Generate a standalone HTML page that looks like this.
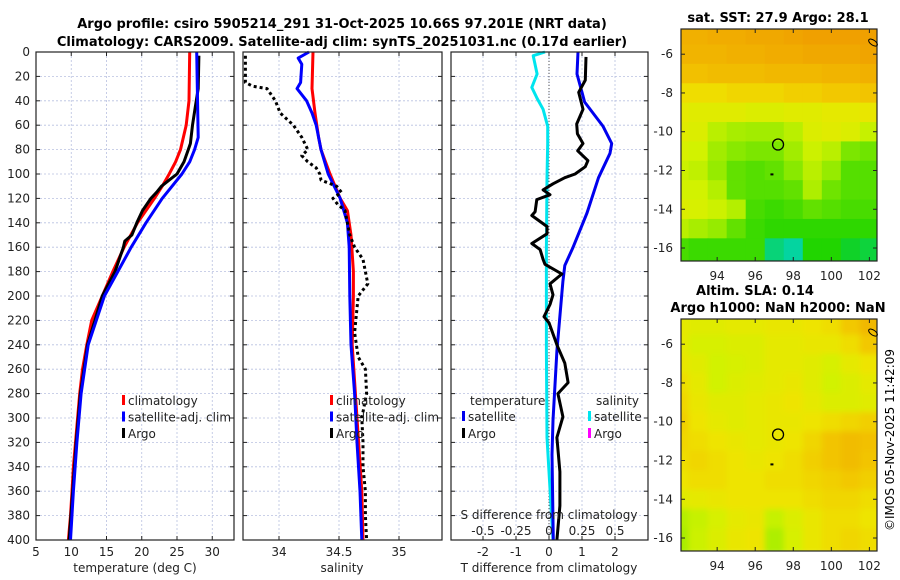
<!DOCTYPE html>
<html><head><meta charset="utf-8"><style>
html,body{margin:0;padding:0;background:#fff;}
svg{display:block;font-family:"DejaVu Sans","Liberation Sans",sans-serif;}
</style></head><body>
<svg id="fig" width="900" height="580" viewBox="0 0 900 580" xmlns="http://www.w3.org/2000/svg">
<defs><filter id="soft" x="0" y="0" width="1" height="1"><feGaussianBlur stdDeviation="3"/></filter></defs>
<text x="342" y="28" text-anchor="middle" font-size="13" font-weight="bold">Argo profile: csiro 5905214_291 31-Oct-2025 10.66S 97.201E (NRT data)</text>
<text x="342" y="46" text-anchor="middle" font-size="13" font-weight="bold">Climatology: CARS2009. Satellite-adj clim: synTS_20251031.nc (0.17d earlier)</text>
<text x="778" y="22" text-anchor="middle" font-size="13" font-weight="bold">sat. SST: 27.9 Argo: 28.1</text>
<text x="755" y="295" text-anchor="middle" font-size="13" font-weight="bold">Altim. SLA: 0.14</text>
<text x="778" y="312" text-anchor="middle" font-size="13" font-weight="bold">Argo h1000: NaN h2000: NaN</text>
<text transform="translate(894,440) rotate(-90)" text-anchor="middle" font-size="12">©IMOS 05-Nov-2025 11:42:09</text>
<g id="plots"></g>
</svg>
<script>
// ---- data ----
const depthTicks=[0,20,40,60,80,100,120,140,160,180,200,220,240,260,280,300,320,340,360,380,400];
const tTicks=[5,10,15,20,25,30];
const sTicks=[34,34.5,35];
const dTicks=[-2,-1,0,1,2];
const sdTicks=[-0.5,-0.25,0,0.25,0.5];
const sdTickLabels=["-0.5","-0.25","0","0.25","0.5"];
const climTDepth=[0,40,60,80,90,100,110,120,140,160,180,200,220,240,260,280,300,320,340,360,380,400];
const climT=[26.8,26.7,26.3,25.5,24.8,23.9,22.9,21.8,19.4,17.5,15.9,14.4,12.9,12.2,11.6,11.2,10.9,10.6,10.3,10.1,9.9,9.6];
const satTDepth=[0,70,80,90,100,110,120,140,160,180,200,240,280,320,360,400];
const satT=[27.8,28.0,27.5,26.8,25.7,24.3,22.9,20.6,18.5,16.6,14.7,12.4,11.4,10.8,10.3,9.9];
const argoTDepth=[3,30,45,60,75,80,90,100,105,110,115,120,130,140,150,155,160,180,200,240,280,320,360,400];
const argoT=[28.1,28.0,27.6,27.2,26.9,26.6,26.0,25.0,23.9,22.8,22.1,21.3,20.1,19.3,18.6,17.6,17.4,16.2,14.4,12.3,11.3,10.7,10.2,9.7];
const climSDepth=[0,30,50,70,80,100,120,130,150,180,200,240,300,360,400];
const climS=[34.283,34.275,34.3,34.33,34.35,34.425,34.51,34.57,34.6,34.62,34.62,34.61,34.65,34.69,34.7];
const satSDepth=[0,5,10,25,30,40,50,60,80,100,120,140,160,200,240,280,320,360,400];
const satS=[34.25,34.16,34.19,34.18,34.15,34.23,34.275,34.31,34.35,34.41,34.51,34.57,34.585,34.59,34.6,34.63,34.65,34.675,34.69];
const argoSDepth=[3,25,28,30,40,50,60,70,80,85,90,95,100,105,110,115,120,125,130,150,160,170,180,190,200,210,230,250,260,280,300,320,340,360,380,400];
const argoS=[33.72,33.72,33.78,33.9,33.97,34.01,34.12,34.19,34.24,34.19,34.24,34.31,34.34,34.35,34.48,34.52,34.45,34.49,34.55,34.59,34.63,34.7,34.72,34.74,34.66,34.65,34.63,34.66,34.72,34.73,34.69,34.7,34.7,34.72,34.72,34.73];
const satDTDepth=[0,18,33,41,61,75,83,103,132,160,175,188,245,302,330,400];
const satDT=[0.88,0.85,1.0,1.08,1.64,1.9,1.85,1.5,1.15,0.73,0.48,0.42,0.24,0.12,0.09,0.13];
const argoDTDepth=[4,23,33,47,59,67,75,81,89,94,100,103,108,113,117,121,131,134,143,149,157,162,170,174,182,190,199,207,217,222,240,255,271,280,299,316,344,372,400];
const argoDT=[1.12,1.1,0.9,1.03,0.84,0.86,1.03,0.87,1.18,1.1,0.79,0.48,0.12,-0.18,0.03,-0.37,-0.42,-0.52,-0.06,-0.06,-0.52,-0.27,-0.18,-0.12,0.39,0.03,0.12,0.03,-0.15,0.0,0.24,0.48,0.58,0.27,0.42,0.24,0.33,0.33,0.24];
const satDSDepth=[0,3,8,18,29,38,47,61,75,103,160,245,316,400];
const satDS=[-0.03,-0.12,-0.11,-0.09,-0.13,-0.09,-0.045,-0.01,-0.01,-0.015,-0.02,-0.02,-0.015,0.03];
const lonTicks=[94,96,98,100,102];
const latTicks=[-6,-8,-10,-12,-14,-16];
const latTickLabels=["-6","-8","-10","-12","-14","-16"];
const floatLon=97.2, floatLat=-10.66;
// SST field (rows lat -5..-16, cols lon 92..102), index -1=cyan .. 4=orange
const sstGrid=[
[3.6,3.6,3.7,3.7,3.8,3.8,3.9,4.0,4.0,4.0,4.0],
[3.5,3.5,3.5,3.6,3.6,3.7,3.7,3.8,3.8,3.8,3.9],
[3.2,3.2,3.3,3.3,3.3,3.4,3.4,3.4,3.5,3.5,3.6],
[2.7,2.7,2.7,2.8,2.8,2.8,2.9,2.9,3.0,3.0,3.1],
[2.4,2.3,2.3,2.3,2.2,2.2,2.3,2.3,2.4,2.4,2.5],
[2.3,2.2,1.6,1.3,1.2,1.2,1.6,2.2,2.3,2.2,1.8],
[2.1,2.0,1.2,0.9,0.8,0.8,1.2,1.9,1.6,0.8,0.7],
[1.9,1.7,1.0,0.6,0.5,0.6,0.9,1.6,1.0,0.5,0.5],
[2.0,2.0,1.5,0.6,0.5,0.5,0.6,1.4,0.7,0.5,0.5],
[2.2,2.1,1.9,1.5,0.4,0.3,0.4,0.6,0.5,0.4,0.4],
[1.6,1.3,1.0,0.6,0.3,0.2,0.2,0.2,0.2,0.2,0.2],
[0.4,0.3,0.3,0.3,0.3,-0.6,-0.8,0.1,0.1,-0.2,-0.3]];
const slaGrid=[
[2.4,2.3,2.3,2.4,2.4,2.5,2.5,2.6,2.7,3.0,3.4],
[2.4,2.1,2.1,2.2,2.2,2.4,2.4,2.5,2.5,2.7,3.0],
[2.5,2.3,2.0,2.1,2.2,2.4,2.4,2.3,2.1,2.4,2.6],
[2.7,2.4,2.0,2.2,2.3,2.4,2.5,2.3,2.0,2.2,2.4],
[2.8,2.5,2.3,2.3,2.4,2.5,2.6,2.4,2.2,2.2,2.3],
[2.9,2.6,2.4,2.3,2.4,2.5,2.5,2.6,2.7,2.8,2.9],
[2.8,2.7,2.6,2.5,2.4,2.5,2.6,2.8,3.1,3.3,3.2],
[2.7,2.8,2.7,2.6,2.5,2.6,2.7,2.9,3.1,3.3,3.1],
[2.6,2.7,2.7,2.6,2.6,2.7,2.7,2.8,2.9,3.0,2.9],
[2.3,2.4,2.5,2.6,2.6,2.6,2.6,2.7,2.8,2.8,2.7],
[1.5,1.8,2.1,2.4,2.5,1.8,2.2,2.5,2.7,2.7,2.6],
[1.3,1.9,2.2,2.5,2.6,1.4,2.1,2.5,2.7,2.8,2.7]];

// ---- drawing ----
const NS="http://www.w3.org/2000/svg";
const root=document.getElementById('plots');
function mk(tag,attrs,parent){const e=document.createElementNS(NS,tag);for(const k in attrs)e.setAttribute(k,attrs[k]);(parent||root).appendChild(e);return e;}
const Y0=52,Y1=540;
const yD=d=>Y0+(Y1-Y0)*d/400;
const xT=v=>36+(v-5)*7.05;
const xS=v=>243+(v-33.7)*120;
const xDT=v=>549+v*33;
const xDS=v=>549+v*132;
const panels=[{x0:36,x1:234},{x0:243,x1:442},{x0:451,x1:648}];
function grid(p,xticks,xf,name){
  const g=mk('g',{});
  
  
  depthTicks.forEach(d=>{if(d>0&&d<400){const l=mk('line',{x1:p.x0,x2:p.x1,y1:yD(d),y2:yD(d),stroke:'#b8c0e0','stroke-width':0.8,'stroke-dasharray':'2,2'},g);}
    mk('line',{x1:p.x0,x2:p.x0+4,y1:yD(d),y2:yD(d),stroke:'#222'},g);mk('line',{x1:p.x1-4,x2:p.x1,y1:yD(d),y2:yD(d),stroke:'#222'},g);});
  xticks.forEach(v=>{const x=xf(v);if(x>p.x0+1&&x<p.x1-1){const l=mk('line',{x1:x,x2:x,y1:Y0,y2:Y1,stroke:'#b8c0e0','stroke-width':0.8,'stroke-dasharray':'2,2'},g);}
    mk('line',{x1:x,x2:x,y1:Y1,y2:Y1-4,stroke:'#222'},g);mk('line',{x1:x,x2:x,y1:Y0,y2:Y0+4,stroke:'#222'},g);});
}
function frame(p,name){const r=mk('rect',{x:p.x0,y:Y0,width:p.x1-p.x0,height:Y1-Y0,fill:'none',stroke:'#222','stroke-width':1.2});}
function line(ds,vs,xf,color,w,name,dash){
  const pts=ds.map((d,i)=>xf(vs[i]).toFixed(1)+','+yD(d).toFixed(1)).join(' ');
  const a={points:pts,fill:'none',stroke:color,'stroke-width':w,'stroke-linejoin':'round'};
  if(dash)a['stroke-dasharray']=dash;
  const e=mk('polyline',a);
  
  
}
function txt(x,y,s,opt,name){const t=mk('text',Object.assign({x:x,y:y,'font-size':12,fill:'#222'},opt||{}));t.textContent=s;return t;}

// Panel 1
grid(panels[0],tTicks,xT,'temperature');
line(climTDepth,climT,xT,'#ff0000',3,'climatology-temperature-line');
line(argoTDepth,argoT,xT,'#000000',3,'argo-temperature-line');
line(satTDepth,satT,xT,'#0000ff',3,'satellite-temperature-line');
frame(panels[0],'temperature-panel');
depthTicks.forEach(d=>txt(30,yD(d)+4,String(d),{'text-anchor':'end'},'depth-tick-label'));
tTicks.forEach(v=>txt(xT(v),556,String(v),{'text-anchor':'middle'},'temperature-tick-label'));
txt(135,572,'temperature (deg C)',{'text-anchor':'middle'},'temperature-axis-title');
// Panel 2
grid(panels[1],sTicks,xS,'salinity');
line(climSDepth,climS,xS,'#ff0000',3,'climatology-salinity-line');
line(satSDepth,satS,xS,'#0000ff',3,'satellite-salinity-line');
line(argoSDepth,argoS,xS,'#000000',3,'argo-salinity-line','3,3');
frame(panels[1],'salinity-panel');
sTicks.forEach(v=>txt(xS(v),556,String(v),{'text-anchor':'middle'},'salinity-tick-label'));
txt(342,572,'salinity',{'text-anchor':'middle'},'salinity-axis-title');
// Panel 3
grid(panels[2],dTicks,xDT,'difference');
mk('line',{x1:549,x2:549,y1:Y0,y2:Y1,stroke:'#333','stroke-width':0.8,'stroke-dasharray':'1,2'});
line(satDSDepth,satDS,xDS,'#00e5ee',3,'satellite-salinity-diff-line');
line(satDTDepth,satDT,xDT,'#0000ee',3,'satellite-temperature-diff-line');
line(argoDTDepth,argoDT,xDT,'#000000',3,'argo-temperature-diff-line');
frame(panels[2],'difference-panel');
dTicks.forEach(v=>txt(xDT(v),556,String(v),{'text-anchor':'middle'},'t-diff-tick-label'));
txt(549,572,'T difference from climatology',{'text-anchor':'middle'},'t-diff-axis-title');
sdTicks.forEach((v,i)=>txt(xDS(v),535,sdTickLabels[i],{'text-anchor':'middle'},'s-diff-tick-label'));
txt(549,519,'S difference from climatology',{'text-anchor':'middle'},'s-diff-axis-title');
// Legends
function leg(x,y,color,label,name){const r=mk('rect',{x:x,y:y-10,width:3,height:10,fill:color});txt(x+6,y,label,{},name+'-label');}
[[0,'#ff0000','climatology'],[1,'#0000ff','satellite-adj. clim'],[2,'#000','Argo']].forEach(a=>{leg(122,405+a[0]*16.5,a[1],a[2],'temp-legend-entry');leg(330,405+a[0]*16.5,a[1],a[2],'sal-legend-entry');});
txt(470,405,'temperature',{},'diff-legend-temperature-header');
txt(596,405,'salinity',{},'diff-legend-salinity-header');
leg(462,421,'#0000ee','satellite','diff-legend-temp-sat');
leg(462,438,'#000','Argo','diff-legend-temp-argo');
leg(588,421,'#00e5ee','satellite','diff-legend-sal-sat');
leg(588,438,'#ff00ff','Argo','diff-legend-sal-argo');

// Maps
function cmap(v){
  const stops=[[-1,[0,212,200]],[0,[20,210,0]],[1,[150,235,0]],[2,[210,242,0]],[2.6,[238,228,0]],[3,[242,200,0]],[4,[240,160,0]]];
  if(v<=stops[0][0])return 'rgb('+stops[0][1]+')';
  for(let i=1;i<stops.length;i++){if(v<=stops[i][0]){const a=stops[i-1],b=stops[i],t=(v-a[0])/(b[0]-a[0]);return 'rgb('+a[1].map((c,j)=>Math.round(c+(b[1][j]-c)*t)).join(',')+')';}}
  return 'rgb('+stops[stops.length-1][1]+')';
}
function map(y0,y1,gridv,name,blur){
  const x0=681,x1=877;
  const lonL=92.1,lonR=102.4,latT=-4.7,latB=-16.67;
  const xL=v=>x0+(v-lonL)/(lonR-lonL)*(x1-x0);
  const yL=v=>y0+(latT-v)/(latT-latB)*(y1-y0);
  const g=mk('g',{});
  
  
  const clip=mk('clipPath',{id:name+'-clip'},g);mk('rect',{x:x0,y:y0,width:x1-x0,height:y1-y0},clip);
  const cg0=mk('g',{'clip-path':'url(#'+name+'-clip)'},g);
  const cg=mk('g',blur?{filter:'url(#soft)'}:{},cg0);
  gridv.forEach((row,i)=>row.forEach((v,j)=>{
    const lat=-5-i,lon=92+j;
    const r=mk('rect',{x:xL(lon-0.5)-(j==0?6:0),y:yL(lat+0.5)-(i==0?6:0),width:xL(1)-xL(0)+0.6+(j==0||j==row.length-1?6:0),height:yL(0)-yL(1)+0.6+(i==0||i==gridv.length-1?6:0),fill:cmap(v)},cg);
    
    
  }));
  mk('rect',{x:x0,y:y0,width:x1-x0,height:y1-y0,fill:'none',stroke:'#222','stroke-width':1.2},g);
  lonTicks.forEach(v=>{mk('line',{x1:xL(v),x2:xL(v),y1:y1,y2:y1-4,stroke:'#222'},g);mk('line',{x1:xL(v),x2:xL(v),y1:y0,y2:y0+4,stroke:'#222'},g);txt(xL(v),y1+19,String(v),{'text-anchor':'middle'},'lon-tick-label');});
  latTicks.forEach((v,i)=>{mk('line',{x1:x0,x2:x0+4,y1:yL(v),y2:yL(v),stroke:'#222'},g);mk('line',{x1:x1-4,x2:x1,y1:yL(v),y2:yL(v),stroke:'#222'},g);txt(x0-8,yL(v)+4,latTickLabels[i],{'text-anchor':'end'},'lat-tick-label');});
  const c=mk('circle',{cx:xL(floatLon),cy:yL(floatLat),r:5.5,fill:'none',stroke:'#000','stroke-width':1.3},g);
  
  mk('rect',{x:xL(96.8),y:yL(-12.15),width:3,height:2,fill:'#000'},g);
  mk('ellipse',{cx:873,cy:yL(-5.4),rx:5,ry:2.5,fill:'none',stroke:'#000','stroke-width':1,transform:'rotate(35 873 '+yL(-5.4)+')'},g);
}
map(29,261,sstGrid,'sst-map',false);
map(319,551,slaGrid,'sla-map',true);
</script>
</body></html>
